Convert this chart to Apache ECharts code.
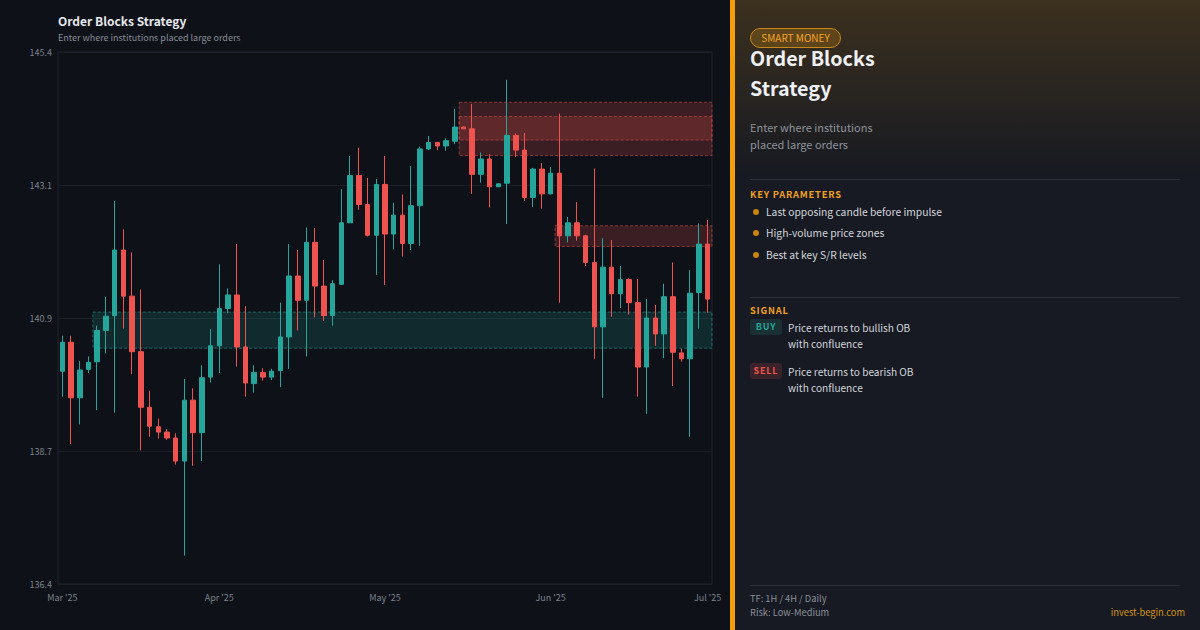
<!DOCTYPE html>
<html>
<head>
<meta charset="utf-8">
<script src="https://cdn.jsdelivr.net/npm/echarts@6/dist/echarts.min.js"></script>
<style>
  html, body { margin:0; padding:0; }
  body { width:1200px; height:630px; overflow:hidden; background:#0e1118; position:relative;
         font-family:'Noto Sans CJK KR','Noto Sans',sans-serif; }
  #chart { position:absolute; left:0; top:0; width:730px; height:630px; }
  #stripe { position:absolute; left:730px; top:0; width:5px; height:630px; background:#f59e0b; }
  #panel { position:absolute; left:735px; top:0; width:465px; height:630px;
           background:linear-gradient(180deg, rgba(245,158,11,0.17) 0px, rgba(245,158,11,0) 175px), #171a22; }
  .abs { position:absolute; white-space:nowrap; }
  .badge { left:750px; top:28px; width:91px; height:20px; box-sizing:border-box; border:1px solid #c4891a;
           border-radius:10px; background:rgba(245,158,11,0.22); color:#f5a524; font-size:10px; line-height:18px; text-align:center; }
  .htitle { left:750px; top:43px; font-size:19.7px; line-height:30px; font-weight:600; color:#eef0f3; }
  .hsub { left:750px; top:119px; font-size:11px; line-height:17px; color:#8d929b; }
  .sep { left:750px; width:430px; height:1px; background:#2b2f39; }
  .sect { left:750px; font-size:9.3px; line-height:14px; letter-spacing:0.8px; color:#f0a020; font-weight:600; }
  .dot { left:753px; width:6px; height:6px; border-radius:3px; background:#c8860e; }
  .btxt { left:766px; font-size:10.3px; line-height:16px; color:#d3d6dc; }
  .tag { left:750px; width:32px; height:16px; border-radius:3px; font-size:9px; line-height:16px; text-align:center;
         font-weight:600; letter-spacing:0.8px; }
  .stxt { left:788px; font-size:10.1px; line-height:16px; color:#d3d6dc; }
  .foot { left:750px; font-size:9.3px; line-height:14px; color:#8a8f99; }
</style>
</head>
<body>
<div id="chart"></div>
<div id="stripe"></div>
<div id="panel"></div>
<div class="abs badge">SMART MONEY</div>
<div class="abs htitle">Order Blocks<br>Strategy</div>
<div class="abs hsub">Enter where institutions<br>placed large orders</div>
<div class="abs sep" style="top:179px"></div>
<div class="abs sect" style="top:187px">KEY PARAMETERS</div>
<div class="abs dot" style="top:209px"></div>
<div class="abs btxt" style="top:204px">Last opposing candle before impulse</div>
<div class="abs dot" style="top:230px"></div>
<div class="abs btxt" style="top:225px">High-volume price zones</div>
<div class="abs dot" style="top:252px"></div>
<div class="abs btxt" style="top:247px">Best at key S/R levels</div>
<div class="abs sep" style="top:297px"></div>
<div class="abs sect" style="top:303px">SIGNAL</div>
<div class="abs tag" style="top:319px;background:rgba(38,166,154,0.16);color:#26a69a">BUY</div>
<div class="abs stxt" style="top:320px">Price returns to bullish OB<br>with confluence</div>
<div class="abs tag" style="top:363px;background:rgba(239,83,80,0.16);color:#ef5350">SELL</div>
<div class="abs stxt" style="top:364px">Price returns to bearish OB<br>with confluence</div>
<div class="abs sep" style="top:585px"></div>
<div class="abs foot" style="top:591px">TF: 1H / 4H / Daily</div>
<div class="abs foot" style="top:605px">Risk: Low-Medium</div>
<div class="abs foot" style="top:605px;left:auto;right:15px;color:#d4940f">invest-begin.com</div>
<script>
// ---- data ----
const xTickLabels = ["Mar '25", "Apr '25", "May '25", "Jun '25", "Jul '25"];
const xTickIndex = [0, 18, 37, 56, 74];
const categories = Array.from({length: 75}, (_, i) => 'c' + i);
const yTickLabels = ['136.4', '138.7', '140.9', '143.1', '145.4'];

const opens = [140.00,140.49,139.55,140.03,140.16,140.69,140.94,142.05,141.27,140.33,
  139.39,139.06,138.97,138.87,138.48,139.51,138.96,139.90,140.43,141.06,
  141.29,140.41,139.79,139.98,139.90,140.01,140.58,141.61,141.20,142.18,
  141.44,140.94,141.47,142.51,143.31,142.82,142.30,143.16,142.32,142.64,
  142.16,142.80,143.76,143.87,143.81,143.89,144.13,144.10,143.33,143.59,
  143.12,143.18,143.99,143.74,142.94,143.42,143.00,143.35,142.29,142.51,
  142.29,141.84,140.75,141.76,141.31,141.55,141.16,140.07,140.90,140.63,
  141.26,140.31,140.21,141.33,142.15];
const closes = [140.49,139.55,140.02,140.15,140.69,140.93,142.05,141.27,140.33,139.39,
  139.07,138.97,138.87,138.48,139.51,138.96,139.89,140.43,141.06,141.29,
  140.41,139.80,139.98,139.90,140.00,140.58,141.61,141.20,142.18,141.44,
  140.94,141.48,142.51,143.31,142.82,142.30,143.16,142.32,142.64,142.16,
  142.80,143.76,143.87,143.81,143.90,144.13,144.10,143.33,143.59,143.12,
  143.17,143.99,143.74,142.94,143.42,143.00,143.35,142.29,142.51,142.29,
  141.84,140.75,141.76,141.31,141.55,141.16,140.07,140.90,140.63,141.26,
  140.32,140.21,141.32,142.15,141.22];
const lows = [139.57,138.77,139.10,139.97,139.34,140.30,139.30,140.72,139.95,138.66,
  138.89,138.86,138.84,138.42,136.88,138.40,138.48,139.81,139.97,140.98,
  140.08,139.57,139.64,139.84,139.85,139.73,140.04,140.69,140.25,140.91,
  140.85,140.77,141.46,142.51,142.73,142.28,141.63,141.46,142.06,141.94,
  142.05,142.12,143.74,143.74,143.73,143.84,144.10,143.00,143.19,142.77,
  143.12,142.49,143.62,142.88,142.78,142.75,142.99,141.16,142.18,142.21,
  141.78,140.21,139.55,140.92,141.07,140.96,139.57,139.28,140.43,140.22,
  139.75,140.16,138.89,140.72,140.99];
const highs = [140.60,140.60,140.17,140.25,140.77,141.26,142.88,142.40,142.01,141.38,
  139.67,139.20,139.02,138.95,139.87,139.71,140.10,140.71,141.81,141.40,
  142.15,141.10,140.10,140.05,140.04,141.16,142.15,142.05,142.43,142.42,
  141.88,141.54,143.08,143.64,143.78,143.27,143.25,143.64,142.85,142.99,
  143.47,143.80,143.98,143.88,143.94,144.44,144.14,144.52,143.70,143.67,
  143.18,144.93,144.02,144.03,143.44,143.52,143.45,144.36,142.61,142.86,
  142.31,143.43,142.25,142.22,141.78,141.57,141.56,141.22,141.12,141.48,
  141.84,140.38,141.71,142.50,142.56];

// order block zones (category index range and price range); type 1 = bullish, 0 = bearish
const zoneStart = [4, 46, 46, 57];
const zoneEnd   = [74, 74, 74, 74];
const zoneLow   = [140.39, 143.65, 143.91, 142.11];
const zoneHigh  = [141.00, 144.55, 144.31, 142.46];
const zoneType  = [1, 0, 0, 0];

// ---- build ----
const FONT = "'Noto Sans CJK KR','Noto Sans',sans-serif";
const candleData = opens.map((o, i) => [o, closes[i], lows[i], highs[i]]);
const zoneData = zoneStart.map((s, i) => [s, zoneEnd[i], zoneLow[i], zoneHigh[i], zoneType[i]]);

const chart = echarts.init(document.getElementById('chart'), null, {renderer: 'svg'});
chart.setOption({
  backgroundColor: '#0e1118',
  animation: false,
  textStyle: {fontFamily: FONT},
  title: {
    left: 58, top: 14, itemGap: 7, padding: 0,
    text: 'Order Blocks Strategy',
    subtext: 'Enter where institutions placed large orders',
    textStyle: {color: '#e6e8ec', fontSize: 12, fontWeight: 'bold', fontFamily: FONT},
    subtextStyle: {color: '#878c96', fontSize: 9, fontFamily: FONT}
  },
  grid: {left: 58, right: 18, top: 52, bottom: 46, show: true, borderColor: '#20242d', borderWidth: 1},
  xAxis: {
    type: 'category', data: categories, boundaryGap: true,
    axisLine: {show: false}, axisTick: {show: false}, splitLine: {show: false},
    axisLabel: {
      interval: (i) => xTickIndex.includes(i),
      formatter: (v, i) => xTickLabels[xTickIndex.indexOf(i)] || '',
      color: '#7c818b', fontSize: 9, margin: 9, fontFamily: FONT
    }
  },
  yAxis: {
    type: 'value', min: 136.4, max: 145.4, interval: 2.25,
    axisLine: {show: false}, axisTick: {show: false},
    splitLine: {lineStyle: {color: '#1b1f27', width: 1}},
    axisLabel: {
      formatter: (v) => yTickLabels[Math.round((v - 136.4) / 2.25)] || '',
      color: '#7c818b', fontSize: 9, margin: 6, fontFamily: FONT
    }
  },
  series: [
    {
      type: 'custom', z: 1, data: zoneData,
      encode: {x: [0, 1], y: [2, 3]},
      renderItem: (params, api) => {
        const s = api.value(0), e = api.value(1), lo = api.value(2), hi = api.value(3), t = api.value(4);
        const p1 = api.coord([s, hi]);
        const p2 = api.coord([e, lo]);
        const bw = api.size([1, 0])[0];
        const bull = t === 1;
        return {
          type: 'rect',
          shape: {x: p1[0] - bw / 2, y: p1[1], width: p2[0] - p1[0] + bw, height: p2[1] - p1[1]},
          style: {
            fill: bull ? 'rgba(38,166,154,0.17)' : 'rgba(239,83,80,0.2)',
            stroke: bull ? 'rgba(38,166,154,0.55)' : 'rgba(239,83,80,0.5)',
            lineWidth: 1, lineDash: [3, 2]
          }
        };
      }
    },
    {
      type: 'candlestick', z: 2, data: candleData, barWidth: 5,
      itemStyle: {color: '#26a69a', color0: '#ef5350', borderColor: '#26a69a', borderColor0: '#ef5350', borderWidth: 1}
    }
  ]
});
</script>
</body>
</html>
